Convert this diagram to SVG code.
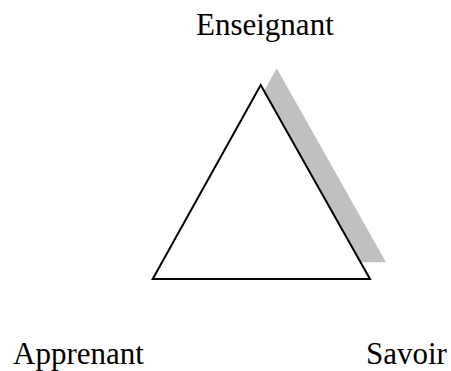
<svg xmlns="http://www.w3.org/2000/svg" width="451" height="371" viewBox="0 0 451 371">
<style>
.lbl{font-family:"Liberation Serif","Times New Roman",serif;font-size:31px;fill:#000}
</style>
<rect width="451" height="371" fill="#fff"/>
<g id="triangle">
<polygon points="276.7,68.3 386,262.3 168.7,262.3" fill="#c0c0c0"/>
<polygon points="260.7,85 370,279 152.7,279" fill="#fff" stroke="#000" stroke-width="2" stroke-linejoin="miter"/>
</g>
<g id="connectors"></g>
<g id="enseignant"><text class="lbl" x="196" y="35">Enseignant</text></g>
<g id="apprenant"><text class="lbl" x="13" y="363.5">Apprenant</text></g>
<g id="savoir"><text class="lbl" x="366" y="363.5">Savoir</text></g>
</svg>
